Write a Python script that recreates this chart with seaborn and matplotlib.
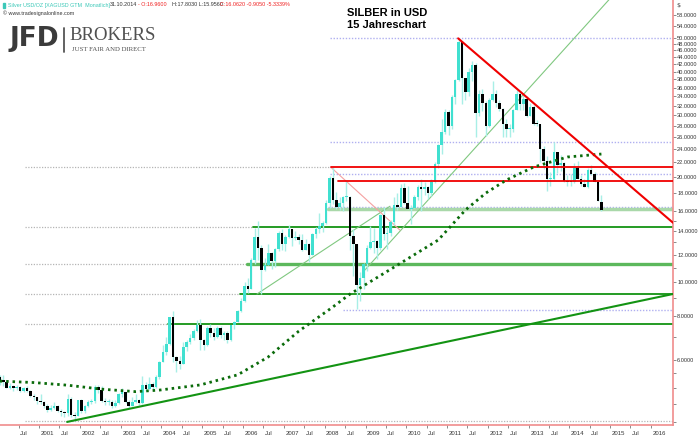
import numpy as np
import pandas as pd
import seaborn as sns
import matplotlib.pyplot as plt
import matplotlib.transforms as mtransforms
from matplotlib.lines import Line2D
from matplotlib.ticker import FixedLocator, FuncFormatter, NullFormatter

# monthly candles Silver USD/OZ, Jan 2000 .. Oct 2014 (one row per year)
opens = [
    5.36, 5.25, 5.18, 5.00, 5.05, 4.98, 5.02, 4.90, 4.98, 4.88, 4.72, 4.70,
    4.58, 4.55, 4.43, 4.32, 4.38, 4.42, 4.30, 4.25, 4.22, 4.65, 4.18, 4.15,
    4.60, 4.28, 4.42, 4.56, 4.58, 5.02, 4.93, 4.58, 4.55, 4.55, 4.44, 4.52,
    4.79, 4.85, 4.56, 4.42, 4.54, 4.60, 4.52, 5.08, 4.96, 5.13, 5.03, 5.35,
    5.93, 6.33, 6.68, 7.98, 6.10, 5.95, 5.86, 6.55, 6.73, 6.95, 7.27, 7.55,
    6.82, 6.62, 7.38, 7.14, 6.97, 7.38, 7.05, 7.16, 6.82, 7.53, 7.68, 8.28,
    8.83, 9.78, 9.60, 11.60, 13.44, 12.50, 10.84, 11.23, 12.14, 11.54, 12.45, 13.87,
    12.90, 13.44, 14.17, 13.37, 13.45, 13.20, 12.40, 12.90, 11.98, 13.70, 14.16, 14.45,
    14.76, 16.80, 19.85, 17.20, 16.40, 16.85, 17.55, 17.55, 13.60, 12.90, 9.85, 10.30,
    11.30, 12.55, 13.05, 13.10, 12.55, 15.60, 13.70, 13.85, 14.90, 16.65, 16.45, 18.65,
    16.90, 16.25, 16.35, 17.55, 18.75, 18.45, 18.70, 18.00, 19.30, 21.80, 24.70, 26.90,
    30.60, 27.90, 33.90, 37.90, 48.60, 38.40, 34.90, 40.00, 41.70, 30.45, 34.60, 32.60,
    27.90, 33.20, 34.60, 32.50, 31.20, 28.40, 27.40, 27.40, 31.05, 34.60, 32.25, 33.50,
    29.95, 31.80, 28.40, 28.30, 24.10, 22.20, 19.70, 19.80, 23.50, 21.70, 21.90, 19.50,
    19.40, 19.30, 21.20, 19.75, 19.05, 18.70, 21.00, 20.40, 19.40, 16.96,
]
highs = [
    5.45, 5.45, 5.20, 5.15, 5.10, 5.10, 5.05, 5.02, 5.05, 4.92, 4.80, 4.70,
    4.78, 4.57, 4.48, 4.45, 4.55, 4.47, 4.35, 4.30, 4.80, 4.70, 4.27, 4.62,
    4.63, 4.47, 4.62, 4.63, 5.10, 5.08, 5.06, 4.68, 4.65, 4.60, 4.62, 4.82,
    4.98, 4.85, 4.60, 4.70, 4.80, 4.65, 5.40, 5.19, 5.35, 5.20, 5.45, 5.97,
    6.63, 6.98, 7.92, 8.29, 6.15, 6.17, 6.75, 6.85, 7.10, 7.35, 7.80, 7.85,
    6.90, 7.49, 7.60, 7.38, 7.50, 7.50, 7.26, 7.28, 7.55, 7.75, 8.34, 9.02,
    10.05, 10.30, 11.70, 14.30, 14.95, 12.75, 11.75, 12.90, 12.20, 12.55, 14.05, 14.20,
    13.65, 14.60, 14.20, 14.05, 13.75, 13.70, 13.30, 12.95, 13.80, 14.40, 15.80, 15.00,
    17.20, 20.10, 21.35, 18.15, 17.55, 17.60, 19.45, 17.70, 14.20, 12.90, 10.70, 11.35,
    12.75, 14.50, 14.30, 13.20, 15.70, 16.40, 14.40, 15.10, 17.50, 18.00, 19.05, 19.20,
    18.85, 16.60, 17.80, 19.00, 19.80, 19.30, 18.90, 19.80, 22.05, 24.90, 29.30, 31.30,
    31.00, 34.40, 38.20, 49.80, 48.90, 38.40, 40.85, 43.00, 42.30, 35.40, 35.60, 33.00,
    33.70, 37.50, 35.40, 33.10, 31.40, 29.25, 28.40, 31.20, 35.40, 35.10, 34.40, 34.10,
    32.45, 32.20, 29.10, 28.40, 24.60, 23.00, 20.65, 25.15, 23.60, 23.15, 22.00, 20.20,
    20.40, 21.90, 22.20, 20.20, 19.75, 21.20, 21.70, 20.70, 19.45, 17.80,
]
lows = [
    5.10, 5.05, 4.98, 4.95, 4.90, 4.93, 4.85, 4.86, 4.85, 4.70, 4.60, 4.50,
    4.48, 4.38, 4.25, 4.30, 4.33, 4.25, 4.15, 4.13, 4.15, 4.12, 4.01, 4.14,
    4.22, 4.23, 4.40, 4.48, 4.52, 4.82, 4.55, 4.46, 4.45, 4.37, 4.40, 4.50,
    4.70, 4.53, 4.36, 4.42, 4.52, 4.47, 4.50, 4.88, 4.92, 4.95, 5.00, 5.30,
    5.90, 6.20, 6.60, 5.90, 5.55, 5.65, 5.85, 6.38, 6.65, 6.83, 7.20, 6.40,
    6.40, 6.56, 7.00, 6.82, 6.95, 6.95, 6.85, 6.70, 6.80, 7.35, 7.68, 8.20,
    8.80, 9.30, 9.55, 11.30, 11.60, 9.25, 10.75, 11.20, 10.95, 11.05, 12.30, 12.35,
    12.30, 13.35, 12.70, 13.25, 12.85, 12.30, 12.35, 11.45, 11.95, 13.40, 13.85, 13.90,
    14.65, 16.30, 16.70, 16.25, 16.05, 16.00, 17.10, 12.40, 10.40, 8.40, 8.85, 9.55,
    10.80, 12.45, 12.10, 11.65, 12.40, 13.25, 12.45, 13.60, 14.60, 16.10, 16.40, 16.70,
    16.15, 14.65, 16.30, 17.15, 16.00, 17.75, 17.25, 17.60, 19.20, 21.20, 23.20, 26.50,
    26.40, 27.40, 32.30, 37.60, 32.35, 33.10, 34.00, 37.60, 26.10, 29.80, 30.95, 26.15,
    27.80, 33.05, 31.80, 30.80, 26.05, 26.10, 26.05, 26.90, 31.00, 31.10, 31.00, 29.70,
    29.95, 28.20, 28.00, 22.00, 21.05, 18.20, 18.80, 19.60, 20.50, 20.80, 19.30, 18.80,
    18.85, 19.20, 19.70, 18.85, 18.70, 18.60, 20.30, 19.30, 17.10, 15.956,
]
closes = [
    5.25, 5.18, 5.00, 5.05, 4.98, 5.02, 4.90, 4.98, 4.88, 4.72, 4.70, 4.58,
    4.55, 4.43, 4.32, 4.38, 4.42, 4.30, 4.25, 4.22, 4.65, 4.18, 4.15, 4.60,
    4.28, 4.42, 4.56, 4.58, 5.02, 4.93, 4.58, 4.55, 4.55, 4.44, 4.52, 4.79,
    4.85, 4.56, 4.42, 4.54, 4.60, 4.52, 5.08, 4.96, 5.13, 5.03, 5.35, 5.93,
    6.33, 6.68, 7.98, 6.10, 5.95, 5.86, 6.55, 6.73, 6.95, 7.27, 7.55, 6.82,
    6.62, 7.38, 7.14, 6.97, 7.38, 7.05, 7.16, 6.82, 7.53, 7.68, 8.28, 8.83,
    9.78, 9.60, 11.60, 13.44, 12.50, 10.84, 11.23, 12.14, 11.54, 12.45, 13.87, 12.90,
    13.44, 14.17, 13.37, 13.45, 13.20, 12.40, 12.90, 11.98, 13.70, 14.16, 14.45, 14.76,
    16.80, 19.85, 17.20, 16.40, 16.85, 17.55, 17.55, 13.60, 12.90, 9.85, 10.30, 11.30,
    12.55, 13.05, 13.10, 12.55, 15.60, 13.70, 13.85, 14.90, 16.65, 16.45, 18.65, 16.90,
    16.25, 16.35, 17.55, 18.75, 18.45, 18.70, 18.00, 19.30, 21.80, 24.70, 26.90, 30.60,
    27.90, 33.90, 37.90, 48.60, 38.40, 34.90, 40.00, 41.70, 30.45, 34.60, 32.60, 27.90,
    33.20, 34.60, 32.50, 31.20, 28.40, 27.40, 27.40, 31.05, 34.60, 32.25, 33.50, 29.95,
    31.80, 28.40, 28.30, 24.10, 22.20, 19.70, 19.80, 23.50, 21.70, 21.90, 19.50, 19.40,
    19.30, 21.20, 19.75, 19.05, 18.70, 21.00, 20.40, 19.40, 17.07, 16.062,
]

# long moving average (dotted)
ma_dates = ["2000-01", "2000-11", "2001-09", "2002-07", "2003-05", "2003-12",
            "2004-12", "2005-11", "2006-08", "2007-05", "2008-03", "2008-08",
            "2009-11", "2010-10", "2011-06", "2011-12", "2012-06", "2013-02",
            "2013-12", "2014-10"]
ma_values = [5.22, 5.17, 5.08, 4.95, 4.87, 4.92, 5.09, 5.44, 6.12, 7.25, 8.50,
             9.25, 11.36, 13.21, 16.09, 17.99, 19.60, 21.35, 22.81, 23.26]

# horizontal levels and the date they start from
green_levels = [7.59, 9.26, 14.37]
green_starts = ["2004-02-28", "2005-12-05", "2006-03-30"]
thick_green_level = 11.26
thick_green_start = "2006-02-06"
pale_green_level = 16.23
pale_green_start = "2008-01-30"
red_levels = [21.3, 19.44]
red_starts = ["2008-02-27", "2008-05-01"]
gray_levels = [21.3, 14.37, 11.26, 9.26, 7.59, 4.02]
gray_ends = ["2008-02-27", "2006-03-30", "2006-02-06", "2005-12-05", "2004-02-28", "2016-07-16"]
blue_levels = [50.0, 25.2, 20.35, 16.45, 8.32]
blue_starts = ["2008-02-17", "2008-02-17", "2008-02-17", "2008-01-30", "2008-06-15"]

# trend lines: (start date, start value, end date, end value)
red_trend = ("2011-04-10", 49.8, "2016-07-16", 14.8)
red_thin = ("2008-02-27", 21.3, "2009-11-05", 14.1)
green_trend = ("2001-09-08", 3.99, "2016-07-16", 9.26)
green_thin_a = ("2006-05-05", 9.26, "2009-08-08", 16.5)
green_thin_b = ("2008-12-10", 10.7, "2015-03-01", 68.0)

y_ticks = [6, 8, 10, 12, 14, 16, 18, 20, 22, 24, 26, 28, 30, 32, 34, 36, 38,
           40, 42, 44, 46, 48, 50, 54, 58]
y_minor = [4, 4.5, 5, 5.5, 7, 9, 11, 13, 15]

x_start, x_end = "2000-01-16", "2016-07-16"

sns.set_theme(style="white")
plt.rcParams['font.family'] = ['DejaVu Sans']

fig = plt.figure(figsize=(7, 4.37), dpi=100)
ax = fig.add_axes([0, 12 / 437, 673 / 700, 425 / 437])
ax.set_yscale('log')

df = pd.DataFrame({'open': opens, 'high': highs, 'low': lows, 'close': closes})
df['date'] = pd.date_range("2000-01-01", periods=len(df), freq="MS") + pd.Timedelta(days=13)
up = df['close'] >= df['open']
body_lo = df[['open', 'close']].min(axis=1)
body_h = (df['close'] - df['open']).abs().clip(lower=0.006 * df['open'])

turq = '#40e0d0'
ax.vlines(df['date'], df['low'], df['high'], color='#a8efe6', lw=1, zorder=3)
ax.bar(df['date'][up], body_h[up], bottom=body_lo[up], width=23, color=turq, lw=0, zorder=4)
ax.bar(df['date'][~up], body_h[~up], bottom=body_lo[~up], width=23, color='black', lw=0, zorder=4)

end = pd.Timestamp(x_end)
for lvl, e in zip(gray_levels, gray_ends):
    ax.plot([pd.Timestamp("2000-08-28"), pd.Timestamp(e)], [lvl, lvl],
            color='#b5b5b5', lw=0.9, ls=(0, (1, 1.2)), zorder=1)
for lvl, s in zip(blue_levels, blue_starts):
    ax.plot([pd.Timestamp(s), end], [lvl, lvl], color='#b0b0f0', lw=1.0,
            ls=(0, (1, 1.2)), zorder=1)
ax.plot([pd.Timestamp(pale_green_start), end], [pale_green_level] * 2,
        color='#a9d8a9', lw=2.5, zorder=2)
ax.plot([pd.Timestamp(thick_green_start), end], [thick_green_level] * 2,
        color='#5cb85c', lw=2.4, zorder=2)
for lvl, s in zip(green_levels, green_starts):
    ax.plot([pd.Timestamp(s), end], [lvl, lvl], color='#139313', lw=1.3, zorder=2)
for lvl, s in zip(red_levels, red_starts):
    ax.plot([pd.Timestamp(s), end], [lvl, lvl], color='#f00000', lw=1.3, zorder=5)


def trend(line, **kw):
    d = pd.DataFrame({'x': pd.to_datetime([line[0], line[2]]), 'y': [line[1], line[3]]})
    sns.lineplot(data=d, x='x', y='y', ax=ax, **kw)


trend(green_thin_a, color='#80c880', lw=0.8, zorder=2)
trend(green_thin_b, color='#80c880', lw=0.8, zorder=2)
trend(red_thin, color='#f5a0a0', lw=0.8, zorder=2)
trend(green_trend, color='#139313', lw=1.5, zorder=5)
trend(red_trend, color='#f00000', lw=1.5, zorder=6)

ma = pd.DataFrame({'date': pd.to_datetime(ma_dates) + pd.Timedelta(days=13), 'ma': ma_values})
sns.lineplot(data=ma, x='date', y='ma', ax=ax, color='#0b6b0b', lw=2.0,
             ls=(0, (0.9, 1.4)), zorder=5)

ax.set_xlim(pd.Timestamp(x_start), pd.Timestamp(x_end))
ax.set_ylim(3.91, 64.1)
ax.set_xlabel('')
ax.set_ylabel('')

# right axis
ax.yaxis.tick_right()
ax.yaxis.set_major_locator(FixedLocator(y_ticks))
ax.yaxis.set_major_formatter(FuncFormatter(lambda v, p: f"{v:.4f}"))
ax.yaxis.set_minor_locator(FixedLocator(y_minor))
ax.yaxis.set_minor_formatter(NullFormatter())
ax.tick_params(axis='y', which='both', direction='out', length=2, width=0.6,
               color='#777777', labelsize=4.1, labelcolor='#333333', pad=1,
               right=True, left=False)
for lab in ax.get_yticklabels():
    lab.set_family('Liberation Sans')

# bottom axis
xt, xl = [], []
for yr in range(2000, 2017):
    if yr > 2000:
        xt.append(pd.Timestamp(f"{yr}-01-01"))
        xl.append(str(yr))
    if yr < 2016:
        xt.append(pd.Timestamp(f"{yr}-07-01"))
        xl.append("Jul")
ax.set_xticks(xt)
ax.set_xticklabels(xl, ha='left', family='Liberation Sans')
ax.tick_params(axis='x', direction='out', length=2.5, width=0.6, color='#777777',
               labelsize=4.3, labelcolor='#333333', pad=1.5, bottom=True)
shift = mtransforms.ScaledTranslation(1.5 / 100, 0, fig.dpi_scale_trans)
for lab in ax.get_xticklabels():
    lab.set_transform(lab.get_transform() + shift)

for s in ['left', 'top']:
    ax.spines[s].set_visible(False)
for s in ['right', 'bottom']:
    ax.spines[s].set_color('#f08c8c')
    ax.spines[s].set_linewidth(1.2)
ax.grid(False)


def px(x, y):
    return x / 700, 1 - y / 437


# header line
hdr = [(8, "Silver USD/OZ [XAGUSD GTM  Monatlich]", '#3cc8b8'),
       (110, "31.10.2014", '#333333'),
       (138, "- O:16.9600", '#f02020'),
       (172, "H:17.8030 L:15.9560", '#333333'),
       (220, "C:16.0620 -0.9050 -5.3339%", '#f02020')]
for x, t, c in hdr:
    fig.text(*px(x, 5), t, fontsize=3.9, color=c, va='center', ha='left',
             family='Liberation Sans')
fig.patches.append(plt.Rectangle(px(2.5, 7.5), 2.5 / 700, 5 / 437, color='#3cc8b8',
                                 transform=fig.transFigure, figure=fig))
fig.text(*px(3, 13.5), "\u00a9 www.tradesignalonline.com", fontsize=3.9,
         color='#333333', va='center', ha='left', family='Liberation Sans')

# logo
fig.text(*px(9, 38.5), "JFD", fontsize=19, fontweight='bold', color='#3b3b3b',
         va='center', ha='left')
fig.add_artist(Line2D([63.5 / 700] * 2, [1 - 28 / 437, 1 - 52 / 437],
                      color='#555555', lw=1.3, transform=fig.transFigure))
fig.text(*px(69, 36), "BROKERS", fontsize=13.5, color='#505050', va='center',
         ha='left', family='Liberation Serif')
fig.text(*px(72, 49.5), "JUST FAIR AND DIRECT", fontsize=4.9, color='#505050',
         va='center', ha='left', family='Liberation Serif')

# title
fig.text(*px(347, 13), "SILBER in USD", fontsize=8, fontweight='bold',
         color='black', va='center', ha='left', family='Liberation Sans')
fig.text(*px(347, 25), "15 Jahreschart", fontsize=8, fontweight='bold',
         color='black', va='center', ha='left', family='Liberation Sans')
fig.text(*px(676, 5), "$", fontsize=4.5, color='#333333', va='center', ha='left')

fig.savefig("out.png", dpi=100)
